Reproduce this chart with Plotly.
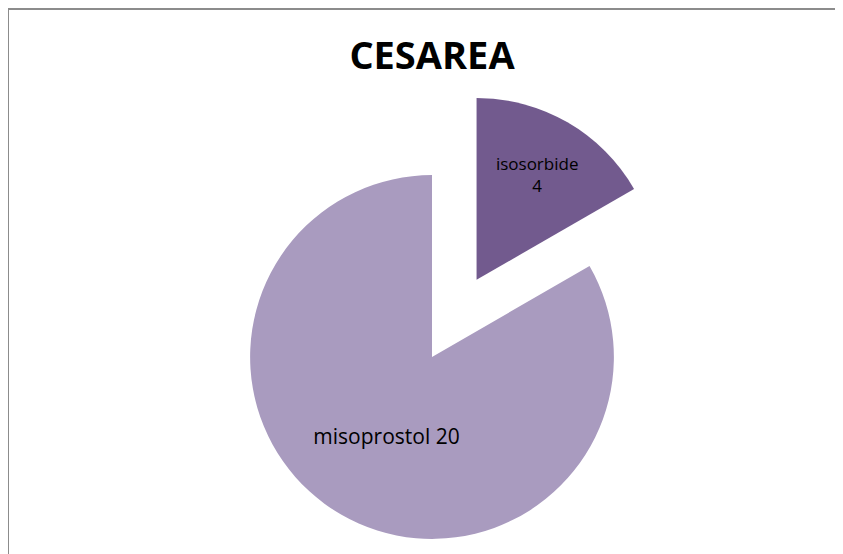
import plotly.graph_objects as go

# data
labels = ["isosorbide", "misoprostol"]
values = [4, 20]
colors = ["#725a8e", "#a99bbf"]
pulls = [0.49, 0]
text_tmpl = ["%{label}<br>%{value}", "%{label} %{value}"]
label_sizes = [17, 21]

# the page body adds an 8px margin, so positions are shifted up/left by 8
W, H = 835, 632
L, R, T, B = 153, 140, 78, 12
pw, ph = W - L - R, H - T - B

def px_x(x):
    return (x - L) / pw

def px_y(y):
    return 1 - (y - T) / ph

fig = go.Figure(go.Pie(
    labels=labels,
    values=values,
    sort=False,
    direction="clockwise",
    rotation=0,
    pull=pulls,
    marker=dict(colors=colors, line=dict(width=0)),
    texttemplate=text_tmpl,
    textposition="inside",
    insidetextorientation="horizontal",
    textfont=dict(family="Open Sans", color="black", size=label_sizes),
    showlegend=False,
    hoverinfo="label+value",
))

fig.update_layout(
    width=W, height=H,
    margin=dict(l=L, r=R, t=T, b=B),
    paper_bgcolor="white",
    title=dict(
        text="<b>CESAREA</b>",
        x=424 / W, xanchor="center",
        y=1 - 48 / H, yanchor="middle",
        font=dict(family="Open Sans", size=38, color="black"),
    ),
    shapes=[
        dict(type="line", xref="paper", yref="paper",
             x0=px_x(0), x1=px_x(W + 10), y0=px_y(1), y1=px_y(1),
             line=dict(color="#8c8c8c", width=2)),
        dict(type="line", xref="paper", yref="paper",
             x0=px_x(0), x1=px_x(0), y0=px_y(0), y1=px_y(H),
             line=dict(color="#8c8c8c", width=2)),
    ],
)

fig.write_html("out.html")
